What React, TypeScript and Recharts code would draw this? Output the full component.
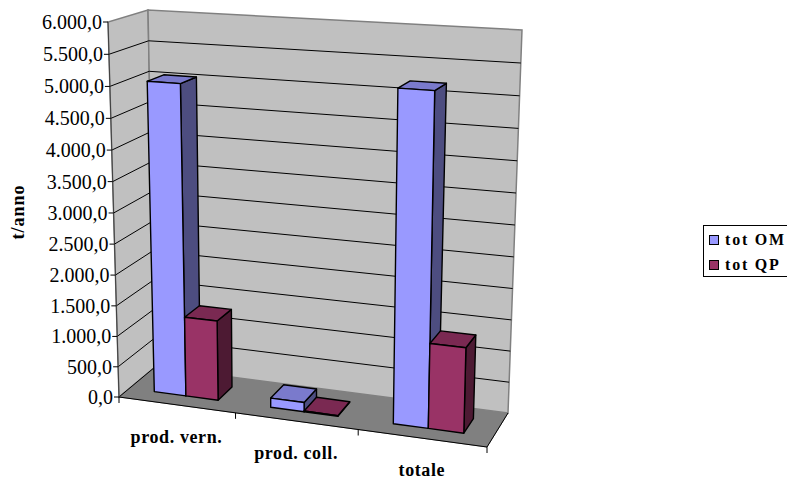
import React from 'react';
import { BarChart, Bar, XAxis, YAxis, Legend } from 'recharts';

const categories = ['prod. vern.', 'prod. coll.', 'totale'];
const totOM = [5040, 150, 5200];
const totQP = [1300, 12, 1340];
const yTicks = [0, 500, 1000, 1500, 2000, 2500, 3000, 3500, 4000, 4500, 5000, 5500, 6000];
const yLabels = ['0,0', '500,0', '1.000,0', '1.500,0', '2.000,0', '2.500,0', '3.000,0', '3.500,0', '4.000,0', '4.500,0', '5.000,0', '5.500,0', '6.000,0'];

const WIDTH = 787;
const HEIGHT = 482;
const Y_MAX = 6000;
// flat plot area, the 3D look is a projection of it
const LEFT = 119;
const TOP = 22;
const PLOT_W = 368;
const PLOT_H = 375;
const FONT = '"Liberation Serif", "Times New Roman", serif';

// box corners as drawn: front/back, left/right, bottom/top
const corners = {
  flb: [119, 397], frb: [487, 447], flt: [108, 22], frt: [497, 45],
  blb: [155, 367], brb: [508, 413], blt: [148, 10], brt: [522, 30],
};

const lerp = (a: number[], b: number[], t: number) => [a[0] + (b[0] - a[0]) * t, a[1] + (b[1] - a[1]) * t];

// u along categories, v up the values, d into the depth (all 0..1)
const project = (u: number, v: number, d: number) => {
  const U = u - 0.075 * u * (1 - u);
  const V = v - 0.037 * v * (1 - v);
  const frontBottom = lerp(corners.flb, corners.frb, U);
  const frontTop = lerp(corners.flt, corners.frt, U);
  const backBottom = lerp(corners.blb, corners.brb, U);
  const backTop = lerp(corners.blt, corners.brt, U);
  return lerp(lerp(frontBottom, frontTop, V), lerp(backBottom, backTop, V), d);
};

const toU = (x: number) => (x - LEFT) / PLOT_W;
const toV = (y: number) => (TOP + PLOT_H - y) / PLOT_H;
const pts = (list: number[][]) => list.map(p => `${p[0].toFixed(1)},${p[1].toFixed(1)}`).join(' ');

const BAR_D0 = 0.29;
const BAR_D1 = 0.72;

const Bar3D = (shades: { top: string; side: string }) => (props: any) => {
  const { x, y, width, height, fill } = props;
  const u0 = toU(x);
  const u1 = toU(x + width);
  const v1 = toV(y);
  const v0 = toV(y + height);
  const line = { stroke: '#000', strokeWidth: 1.4, strokeLinejoin: 'round' as const };
  return (
    <g>
      <polygon {...line} fill={shades.side} points={pts([project(u1, v0, BAR_D0), project(u1, v0, BAR_D1), project(u1, v1, BAR_D1), project(u1, v1, BAR_D0)])} />
      <polygon {...line} fill={shades.top} points={pts([project(u0, v1, BAR_D0), project(u1, v1, BAR_D0), project(u1, v1, BAR_D1), project(u0, v1, BAR_D1)])} />
      <polygon {...line} fill={fill} points={pts([project(u0, v0, BAR_D0), project(u1, v0, BAR_D0), project(u1, v1, BAR_D0), project(u0, v1, BAR_D0)])} />
    </g>
  );
};

// floor, two walls and the gridlines running over both walls
const Walls = () => (
  <g>
    <polygon fill="#808080" stroke="#808080" points={pts([project(0, 0, 0), project(1, 0, 0), project(1, 0, 1), project(0, 0, 1)])} />
    <polygon fill="#C0C0C0" stroke="#808080" strokeWidth={1.5} points={pts([project(0, 0, 0), project(0, 1, 0), project(0, 1, 1), project(0, 0, 1)])} />
    <polygon fill="#C0C0C0" stroke="#808080" strokeWidth={1.5} points={pts([project(0, 0, 1), project(0, 1, 1), project(1, 1, 1), project(1, 0, 1)])} />
    {yTicks.slice(1, -1).map(t => (
      <polyline key={t} fill="none" stroke="#000" strokeWidth={1} points={pts([project(0, t / Y_MAX, 0), project(0, t / Y_MAX, 1), project(1, t / Y_MAX, 1)])} />
    ))}
    <polyline fill="none" stroke="#000" points={pts([project(0, 0, 1), project(0, 0, 0), project(1, 0, 0), project(1, 0, 1)])} />
    <polyline fill="none" stroke="#404040" points={pts([project(0, 1, 0), project(0, 0, 0)])} />
  </g>
);

const YTick = (props: any) => {
  const { y, payload, index } = props;
  const p = project(0, toV(y), 0);
  return (
    <g>
      <line x1={p[0] - 5} y1={p[1]} x2={p[0]} y2={p[1]} stroke="#000" />
      <text x={p[0] - 6} y={p[1] + 7} textAnchor="end" fontFamily={FONT} fontSize={20} fill="#000">
        {yLabels[yTicks.indexOf(payload.value)] ?? yLabels[index]}
      </text>
    </g>
  );
};

const XTick = (props: any) => {
  const { x, payload, index } = props;
  const band = PLOT_W / categories.length;
  const c = project(toU(x), 0, 0);
  const right = project(toU(x + band / 2), 0, 0);
  const left = project(toU(x - band / 2), 0, 0);
  return (
    <g>
      {index === 0 && <line x1={left[0]} y1={left[1]} x2={left[0]} y2={left[1] + 6} stroke="#000" />}
      <line x1={right[0]} y1={right[1]} x2={right[0]} y2={right[1] + 6} stroke="#000" />
      <text x={c[0]} y={c[1] + 38} textAnchor="middle" fontFamily={FONT} fontSize={18} fontWeight="bold" letterSpacing={0.6} fill="#000">
        {payload.value}
      </text>
    </g>
  );
};

const LegendBox = ({ payload }: any) => (
  <div style={{ width: 84, height: 52, boxSizing: 'border-box', border: '1px solid #000', borderRight: 'none', background: '#fff', padding: '1px 0 0 5px', fontFamily: FONT, fontSize: 16, fontWeight: 'bold', letterSpacing: 1.8, color: '#000', whiteSpace: 'nowrap' }}>
    {(payload || []).map((item: any) => (
      <div key={item.value} style={{ display: 'flex', alignItems: 'center', height: 25 }}>
        <span style={{ width: 8, height: 8, border: '1.5px solid #000', background: item.color, marginRight: 6 }} />
        {item.value}
      </div>
    ))}
  </div>
);

const data = categories.map((name, i) => ({ name, om: totOM[i], qp: totQP[i] }));

export default function App() {
  return (
    <div style={{ position: 'absolute', left: 0, top: 0, width: WIDTH, height: HEIGHT, background: '#fff', overflow: 'hidden' }}>
      <BarChart
        width={WIDTH}
        height={HEIGHT}
        data={data}
        barGap={0}
        barCategoryGap="22%"
        margin={{ top: TOP, right: WIDTH - LEFT - PLOT_W, bottom: 55, left: 19 }}
      >
        <Walls />
        <XAxis dataKey="name" height={30} axisLine={false} tickLine={false} interval={0} tick={XTick} />
        <YAxis width={100} domain={[0, Y_MAX]} ticks={yTicks} axisLine={false} tickLine={false} interval={0} tick={YTick} />
        <Legend layout="horizontal" align="center" verticalAlign="middle" content={LegendBox} wrapperStyle={{ left: 703, top: 225, width: 84 }} />
        <Bar dataKey="om" name="tot OM" fill="#9999FF" isAnimationActive={false} shape={Bar3D({ top: '#7A7ACC', side: '#4D4D80' })} />
        <Bar dataKey="qp" name="tot QP" fill="#993366" isAnimationActive={false} shape={Bar3D({ top: '#7A2952', side: '#4D1A33' })} />
        <text x={24} y={212} transform="rotate(-90 24 212)" textAnchor="middle" fontFamily={FONT} fontSize={18} fontWeight="bold" letterSpacing={1} fill="#000">t/anno</text>
      </BarChart>
    </div>
  );
}
